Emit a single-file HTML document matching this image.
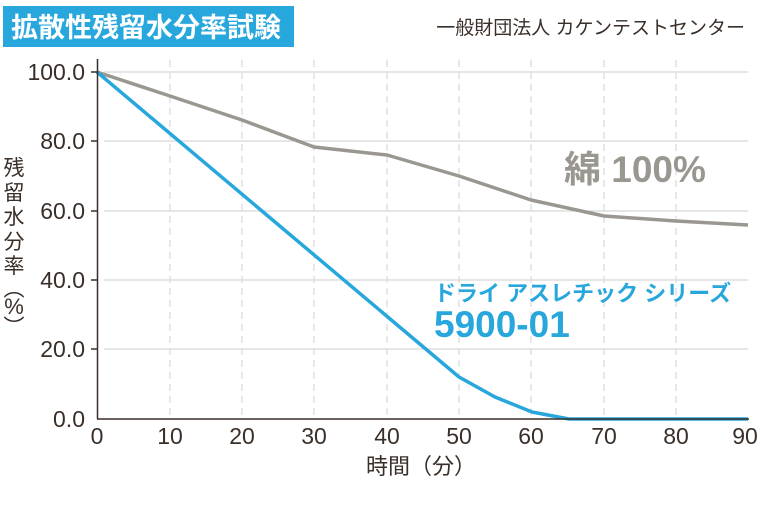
<!DOCTYPE html>
<html><head><meta charset="utf-8"><style>
html,body{margin:0;padding:0;background:#fff;width:760px;height:507px;overflow:hidden}
svg{display:block}
text{font-family:"Liberation Sans","Noto Sans CJK JP",sans-serif}
</style></head><body>
<svg width="760" height="507" viewBox="0 0 760 507" xmlns="http://www.w3.org/2000/svg">
<rect x="3" y="6" width="291" height="41" fill="#27a7dc"/>
<text x="11" y="37" font-size="27" fill="#fff" font-weight="bold" font-family="'Noto Sans CJK JP',sans-serif" letter-spacing="0">拡散性残留水分率試験</text>
<text x="745" y="34" font-size="19" fill="#3a2f28" text-anchor="end" font-family="'Noto Sans CJK JP',sans-serif">一般財団法人 カケンテストセンター</text>
<g stroke="#d8d8d8" stroke-width="1.2">
<line x1="104" y1="72" x2="748" y2="72"/><line x1="104" y1="141" x2="748" y2="141"/>
<line x1="104" y1="211" x2="748" y2="211"/><line x1="104" y1="280" x2="748" y2="280"/>
<line x1="104" y1="349" x2="748" y2="349"/>
</g>
<g stroke="#d8d8d8" stroke-width="1.2" stroke-dasharray="7,5">
<line x1="170" y1="60" x2="170" y2="418"/><line x1="242" y1="60" x2="242" y2="418"/>
<line x1="314" y1="60" x2="314" y2="418"/><line x1="387" y1="60" x2="387" y2="418"/>
<line x1="459" y1="60" x2="459" y2="418"/><line x1="531" y1="60" x2="531" y2="418"/>
<line x1="604" y1="60" x2="604" y2="418"/><line x1="676" y1="60" x2="676" y2="418"/>
</g>
<polyline points="97,72 170,96 242,120 314,147 387,155 459,176 531,200 604,216 676,221 748,225" fill="none" stroke="#9a9790" stroke-width="3.5" stroke-linejoin="round"/>
<polyline points="97,72 459,377 495,397 532,412 569,419 748,419" fill="none" stroke="#27a7dc" stroke-width="3.5" stroke-linejoin="round"/>
<g stroke="#3a2f28" stroke-width="1.5">
<line x1="97.5" y1="59" x2="97.5" y2="419"/><line x1="97" y1="419" x2="749" y2="419"/>
<line x1="91" y1="72" x2="97" y2="72"/><line x1="91" y1="141" x2="97" y2="141"/><line x1="91" y1="211" x2="97" y2="211"/><line x1="91" y1="280" x2="97" y2="280"/><line x1="91" y1="349" x2="97" y2="349"/>
</g>
<g font-size="23" fill="#3a2f28" text-anchor="end">
<text x="85" y="80">100.0</text><text x="85" y="149">80.0</text><text x="85" y="219">60.0</text>
<text x="85" y="288">40.0</text><text x="85" y="357">20.0</text><text x="85" y="427">0.0</text>
</g>
<g font-size="23" fill="#3a2f28" text-anchor="middle">
<text x="97" y="444">0</text><text x="170" y="444">10</text><text x="242" y="444">20</text><text x="314" y="444">30</text>
<text x="387" y="444">40</text><text x="459" y="444">50</text><text x="531" y="444">60</text><text x="604" y="444">70</text>
<text x="676" y="444">80</text><text x="745" y="444">90</text>
</g>
<text x="421" y="474" font-size="22" fill="#3a2f28" text-anchor="middle" font-family="'Noto Sans CJK JP',sans-serif">時間（分）</text>
<g font-size="21" fill="#3a2f28" text-anchor="middle" font-family="'Noto Sans CJK JP',sans-serif">
<text x="14" y="175">残</text><text x="14" y="200">留</text><text x="14" y="224">水</text><text x="14" y="249">分</text><text x="14" y="273">率</text>
<text x="14" y="296">︵</text><text x="14" y="314" font-size="22">%</text><text x="14" y="334">︶</text>
</g>
<text x="564" y="182" font-size="37" fill="#9a9790" font-weight="bold" font-family="'Noto Sans CJK JP',sans-serif">綿 100%</text>
<text x="434" y="301" font-size="22" fill="#27a7dc" font-weight="bold" font-family="'Noto Sans CJK JP',sans-serif">ドライ アスレチック シリーズ</text>
<text x="434" y="337" font-size="37" fill="#27a7dc" font-weight="bold">5900-01</text>
</svg>
</body></html>
